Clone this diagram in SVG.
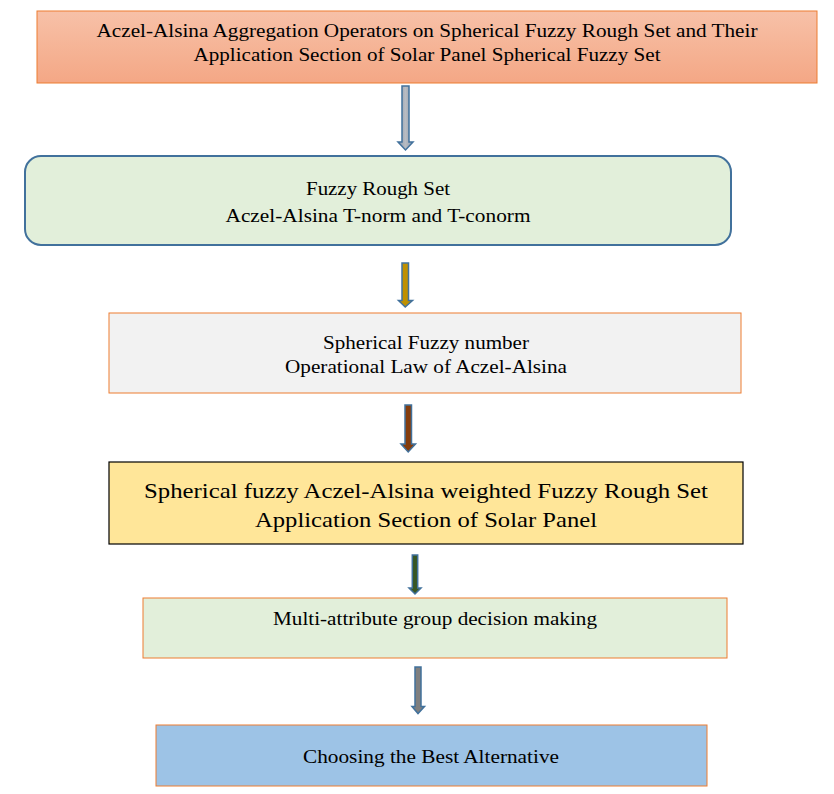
<svg xmlns="http://www.w3.org/2000/svg" width="834" height="794" viewBox="0 0 834 794">
<defs>
<linearGradient id="gTitle" x1="0" y1="0" x2="0" y2="1">
<stop offset="0" stop-color="#f7c1a8"/>
<stop offset="1" stop-color="#f4a785"/>
</linearGradient>
<linearGradient id="gA1" x1="0" y1="0" x2="1" y2="0">
<stop offset="0" stop-color="#8a9bb0"/>
<stop offset="0.5" stop-color="#b9bcc2"/>
<stop offset="1" stop-color="#8a9bb0"/>
</linearGradient>
</defs>
<style>
text{font-family:'Liberation Serif','Times New Roman',serif;fill:#000;text-anchor:middle}
.t18{font-size:19px}
.t22{font-size:22px}
.arr{stroke:#41719c;stroke-width:1.5;stroke-linejoin:miter}
</style>
<rect width="834" height="794" fill="#ffffff"/>

<g id="connectors">
<path class="arr" fill="url(#gA1)" d="M402,86 H409 V142 H413 L405.5,150 L398,142 H402 Z"/>
<path class="arr" fill="#bf9000" d="M402,263 H408.5 V300.5 H412.5 L405.2,307 L398.5,300.5 H402 Z"/>
<path class="arr" fill="#843c0c" d="M405,405 H411.5 V444 H415.5 L408.2,452 L401,444 H405 Z"/>
<path class="arr" fill="#375623" d="M412.3,555 H417.7 V588 H421 L415,594 L409,588 H412.3 Z"/>
<path class="arr" fill="#7f7f7f" d="M415,667 H421 V706.5 H424.5 L418,713.5 L412,706.5 H415 Z"/>
</g>

<g id="node-title">
<rect x="37" y="11" width="780" height="72" fill="url(#gTitle)" stroke="#ed7d31" stroke-width="1"/>
<text class="t18" x="427" y="37" textLength="661" lengthAdjust="spacingAndGlyphs">Aczel-Alsina Aggregation Operators on Spherical Fuzzy Rough Set and Their</text>
<text class="t18" x="427" y="61" textLength="467" lengthAdjust="spacingAndGlyphs">Application Section of Solar Panel Spherical Fuzzy Set</text>
</g>

<g id="node-fuzzy-rough">
<rect x="25" y="156" width="706" height="89" rx="16" ry="16" fill="#e2efda" stroke="#41719c" stroke-width="2"/>
<text class="t18" x="378" y="195" textLength="144" lengthAdjust="spacingAndGlyphs">Fuzzy Rough Set</text>
<text class="t18" x="378" y="222" textLength="305" lengthAdjust="spacingAndGlyphs">Aczel-Alsina T-norm and T-conorm</text>
</g>

<g id="node-spherical">
<rect x="109" y="313" width="632" height="80" fill="#f2f2f2" stroke="#ed7d31" stroke-width="1"/>
<text class="t18" x="426" y="349" textLength="206" lengthAdjust="spacingAndGlyphs">Spherical Fuzzy number</text>
<text class="t18" x="426" y="373" textLength="282" lengthAdjust="spacingAndGlyphs">Operational Law of Aczel-Alsina</text>
</g>

<g id="node-weighted">
<rect x="109" y="462" width="634" height="82" fill="#ffe699" stroke="#000000" stroke-width="1.2"/>
<text class="t22" x="426" y="498" textLength="564" lengthAdjust="spacingAndGlyphs">Spherical fuzzy Aczel-Alsina weighted Fuzzy Rough Set</text>
<text class="t22" x="426" y="527" textLength="342" lengthAdjust="spacingAndGlyphs">Application Section of Solar Panel</text>
</g>

<g id="node-magdm">
<rect x="143" y="598" width="584" height="60" fill="#e2efda" stroke="#ed7d31" stroke-width="1"/>
<text class="t18" x="435" y="625" textLength="324" lengthAdjust="spacingAndGlyphs">Multi-attribute group decision making</text>
</g>

<g id="node-best">
<rect x="156" y="725" width="551" height="61" fill="#9dc3e6" stroke="#ed7d31" stroke-width="1"/>
<text class="t18" x="431" y="763" textLength="256" lengthAdjust="spacingAndGlyphs">Choosing the Best Alternative</text>
</g>
</svg>
